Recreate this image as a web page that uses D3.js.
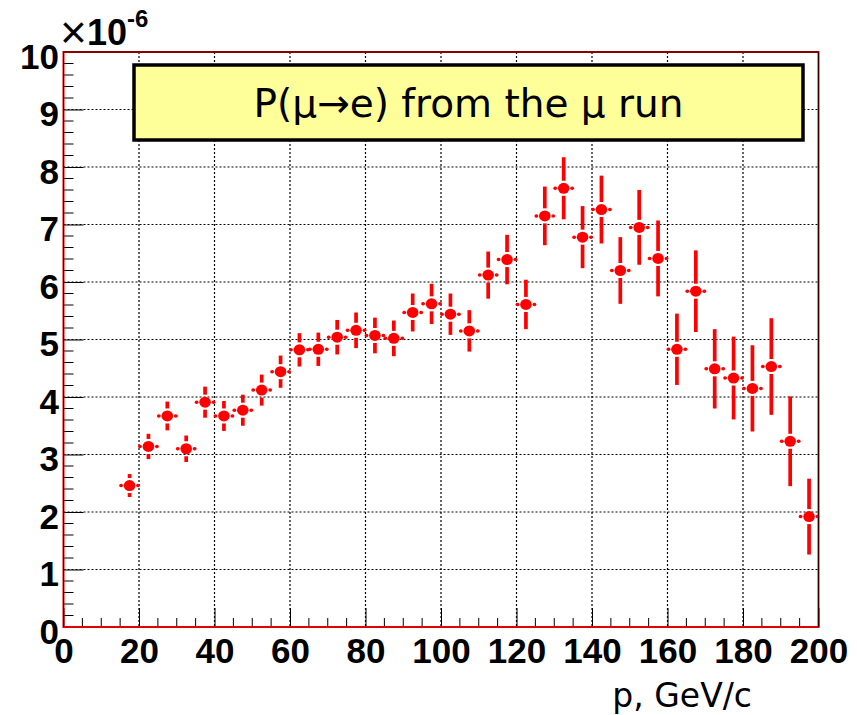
<!DOCTYPE html>
<html>
<head>
<meta charset="utf-8">
<script src="https://cdn.jsdelivr.net/npm/d3@7"></script>
<style>
    body { margin: 0; background: white; }
</style>
</head>
<body>
<div id="chart"></div>
<script>
// bin centres (GeV/c), P(mu->e) in units of 1e-6, and its error
const pCenters = [17.5, 22.5, 27.5, 32.5, 37.5, 42.5, 47.5, 52.5, 57.5, 62.5,
    67.5, 72.5, 77.5, 82.5, 87.5, 92.5, 97.5, 102.5, 107.5, 112.5,
    117.5, 122.5, 127.5, 132.5, 137.5, 142.5, 147.5, 152.5, 157.5, 162.5,
    167.5, 172.5, 177.5, 182.5, 187.5, 192.5, 197.5];
const probValues = [2.46, 3.14, 3.67, 3.10, 3.91, 3.67, 3.77, 4.12, 4.44, 4.82,
    4.83, 5.04, 5.16, 5.07, 5.02, 5.47, 5.62, 5.44, 5.15, 6.12,
    6.39, 5.61, 7.15, 7.63, 6.78, 7.26, 6.20, 6.95, 6.41, 4.83,
    5.84, 4.49, 4.33, 4.15, 4.53, 3.23, 1.92];
const probErrors = [0.20, 0.22, 0.25, 0.23, 0.27, 0.26, 0.27, 0.27, 0.28, 0.29,
    0.29, 0.30, 0.31, 0.31, 0.31, 0.33, 0.35, 0.36, 0.36, 0.41,
    0.43, 0.43, 0.51, 0.54, 0.54, 0.59, 0.58, 0.65, 0.66, 0.62,
    0.71, 0.69, 0.72, 0.75, 0.84, 0.78, 0.66];
const binHalfWidth = 2.5;
const xMajorTicks = [0, 20, 40, 60, 80, 100, 120, 140, 160, 180, 200];
const yMajorTicks = [0, 1, 2, 3, 4, 5, 6, 7, 8, 9, 10];
const titleText = "P(\u03bc\u2192e) from the \u03bc run";
const xAxisTitle = "p, GeV/c";

function renderChart() {
    const margin = {top: 52, right: 38.5, bottom: 88, left: 63.5},
        width = 857 - margin.left - margin.right,
        height = 715 - margin.top - margin.bottom;

    const svg = d3.select("#chart").append("svg")
        .attr("width", 857)
        .attr("height", 715)
        .append("g")
        .attr("transform", "translate(" + margin.left + "," + margin.top + ")");

    const x = d3.scaleLinear().domain([0, 200]).range([0, width]);
    const y = d3.scaleLinear().domain([0, 10]).range([height, 0]);

    const data = pCenters.map(function (p, i) {
        return {p: p, v: probValues[i], e: probErrors[i]};
    });

    // dotted grid
    svg.append("g")
        .selectAll("line")
        .data(xMajorTicks.slice(1, -1))
        .enter()
        .append("line")
        .attr("x1", d => x(d)).attr("x2", d => x(d))
        .attr("y1", 0).attr("y2", height)
        .style("stroke", "black")
        .style("stroke-width", 1.2)
        .style("stroke-dasharray", "2,2");
    svg.append("g")
        .selectAll("line")
        .data(yMajorTicks.slice(1, -1))
        .enter()
        .append("line")
        .attr("x1", 0).attr("x2", width)
        .attr("y1", d => y(d)).attr("y2", d => y(d))
        .style("stroke", "black")
        .style("stroke-width", 1.2)
        .style("stroke-dasharray", "2,2");

    // minor ticks
    const xMinor = d3.range(0, 201, 5).filter(d => d % 20 != 0);
    const yMinor = d3.range(0, 10.01, 0.2).filter(d => Math.abs(d - Math.round(d)) > 0.01);
    svg.append("g")
        .selectAll("line")
        .data(xMinor)
        .enter()
        .append("line")
        .attr("x1", d => x(d)).attr("x2", d => x(d))
        .attr("y1", height).attr("y2", height - 9)
        .style("stroke", "black");
    svg.append("g")
        .selectAll("line")
        .data(yMinor)
        .enter()
        .append("line")
        .attr("x1", 0).attr("x2", 10)
        .attr("y1", d => y(d)).attr("y2", d => y(d))
        .style("stroke", "black");

    // major ticks + labels
    const xAxis = svg.append("g")
        .attr("transform", "translate(0," + height + ")")
        .call(d3.axisBottom(x).tickValues(xMajorTicks).tickSizeInner(-19).tickSizeOuter(0).tickPadding(0));
    xAxis.select(".domain").remove();
    xAxis.selectAll("text")
        .attr("y", 36).attr("dy", null)
        .style("font-family", "Liberation Sans, Arial, sans-serif")
        .style("font-weight", "bold")
        .style("font-size", "35px")
        .style("fill", "black");

    const yAxis = svg.append("g")
        .call(d3.axisLeft(y).tickValues(yMajorTicks).tickSizeInner(-20).tickSizeOuter(0).tickPadding(0));
    yAxis.select(".domain").remove();
    yAxis.selectAll("text")
        .attr("x", -4.5).attr("dy", null).attr("y", 16)
        .style("font-family", "Liberation Sans, Arial, sans-serif")
        .style("font-weight", "bold")
        .style("font-size", "35px")
        .style("fill", "black");

    // title box
    svg.append("rect")
        .attr("x", 134 - margin.left).attr("y", 65 - margin.top)
        .attr("width", 669).attr("height", 75)
        .style("fill", "#ffff99")
        .style("stroke", "black")
        .style("stroke-width", 3.5);
    svg.append("text")
        .attr("x", (134 + 803) / 2 - margin.left)
        .attr("y", 117 - margin.top)
        .attr("text-anchor", "middle")
        .style("font-family", "DejaVu Sans, Verdana, sans-serif")
        .style("font-size", "39px")
        .text(titleText);

    // error bars and markers
    const pts = svg.append("g").selectAll("g")
        .data(data)
        .enter()
        .append("g")
        .attr("transform", d => "translate(" + x(d.p) + "," + y(d.v) + ")");
    const gap = 7.5;
    pts.append("line")
        .attr("x1", 0).attr("x2", 0)
        .attr("y1", -gap).attr("y2", d => Math.min(-gap, y(d.v + d.e) - y(d.v)))
        .style("stroke", "red").style("stroke-width", 3.7);
    pts.append("line")
        .attr("x1", 0).attr("x2", 0)
        .attr("y1", gap).attr("y2", d => Math.max(gap, y(d.v - d.e) - y(d.v)))
        .style("stroke", "red").style("stroke-width", 3.7);
    pts.append("line")
        .attr("y1", 0).attr("y2", 0)
        .attr("x1", -8.3).attr("x2", d => x(d.p - binHalfWidth) - x(d.p) + 0.8)
        .style("stroke", "red").style("stroke-width", 3.5).style("stroke-linecap", "round");
    pts.append("line")
        .attr("y1", 0).attr("y2", 0)
        .attr("x1", 8.3).attr("x2", d => x(d.p + binHalfWidth) - x(d.p) - 0.8)
        .style("stroke", "red").style("stroke-width", 3.5).style("stroke-linecap", "round");
    pts.append("ellipse")
        .attr("rx", 5.8).attr("ry", 5.5)
        .style("fill", "red");

    // frame
    svg.append("rect")
        .attr("x", 0).attr("y", 0)
        .attr("width", width).attr("height", height)
        .style("fill", "none")
        .style("stroke", "#e00000")
        .style("stroke-width", 2);
    svg.append("path")
        .attr("d", "M0," + height + "V0H" + width + "V" + height)
        .style("fill", "none")
        .style("stroke", "#300")
        .style("stroke-width", 1);

    // exponent label
    const expo = svg.append("text")
        .attr("x", 60 - margin.left)
        .attr("y", 45 - margin.top)
        .attr("font-family", "Liberation Sans, Arial, sans-serif")
        .attr("font-size", 34)
        .attr("fill", "black");
    expo.append("tspan").attr("font-size", 46).attr("dy", 3).text("\u00d7");
    expo.append("tspan").attr("font-size", 36).attr("dy", -3).attr("font-weight", "bold").text("10");
    expo.append("tspan").attr("dy", -18).attr("font-size", 24).attr("font-weight", "bold").text("-6");

    // axis title
    svg.append("text")
        .attr("x", 752 - margin.left)
        .attr("y", 707 - margin.top)
        .attr("text-anchor", "end")
        .style("font-family", "DejaVu Sans, Verdana, sans-serif")
        .style("font-size", "33px")
        .text(xAxisTitle);
}

renderChart();
</script>
</body>
</html>
